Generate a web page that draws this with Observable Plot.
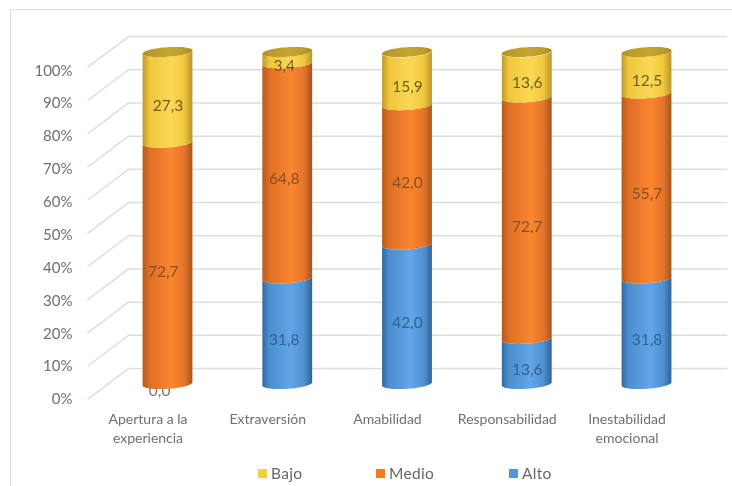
<!DOCTYPE html>
<html lang="es">
<head>
<meta charset="utf-8">
<script src="https://cdn.jsdelivr.net/npm/d3@7"></script>
<script src="https://cdn.jsdelivr.net/npm/@observablehq/plot@0.6"></script>
<style>
  html,body{margin:0;padding:0;background:#fff;width:732px;height:486px;overflow:hidden;font-family:Lato,sans-serif}
  #frame{position:absolute;left:10px;top:9px;right:0;bottom:0;border-left:1.5px solid #dcdcdc;border-top:1.5px solid #dcdcdc}
  #chart{position:absolute;left:0;top:0}
  #chart svg{filter:blur(.6px);display:block;background:none}
  #legend{position:absolute;left:0;top:458px;width:732px;height:28px;filter:blur(.5px)}
  .item{position:absolute;top:6px;display:flex;align-items:center;gap:4px;color:#666;font-size:15.5px;letter-spacing:.3px}
  .swatch{width:9px;height:9px;display:inline-block}
</style>
</head>
<body>
<div id="frame"></div>
<div id="chart"></div>
<div id="legend"></div>
<script>
const categories = ["Apertura a la\nexperiencia", "Extraversión", "Amabilidad", "Responsabilidad", "Inestabilidad\nemocional"];
const levels = ["Alto", "Medio", "Bajo"];
const alto  = [0.0, 31.8, 42.0, 13.6, 31.8];
const medio = [72.7, 64.8, 42.0, 72.7, 55.7];
const bajo  = [27.3, 3.4, 15.9, 13.6, 12.5];
const yTicks = [0, 10, 20, 30, 40, 50, 60, 70, 80, 90, 100];
const legendOrder = ["Bajo", "Medio", "Alto"];
const colors = {Alto: "#4f97dc", Medio: "#ef7a2a", Bajo: "#f6ce42"};
const textColors = {Alto: "#33628f", Medio: "#8a4f22", Bajo: "#6e5f20"};
const gradients = {
  Alto:  ["#34699e", "#4c8fd0", "#62a5e8", "#4f90cf", "#2f6397"],
  Medio: ["#b65a1b", "#dd6f26", "#fb8630", "#e3742a", "#a5551f"],
  Bajo:  ["#bd9a2a", "#f0c63c", "#fad955", "#f0c63c", "#b6952c"]
};

const seriesByLevel = {Alto: alto, Medio: medio, Bajo: bajo};

// Cylinder geometry expressed in scale units (category steps, percent points)
const pxPerPct = 3.32;
const halfWidth = 0.208, tilt = 1.6 / pxPerPct, squash = 4.8 / pxPerPct;
const backX = -0.33, rightX = 4.676, frontX = -0.672, tickX = -0.797;
const backLift = 4.8, frontDrop = -4.5;

const samples = d3.range(0, 33).map(i => Math.cos(Math.PI * i / 32));
const lower = (v, t) => v + tilt * t - squash * Math.sqrt(1 - t * t);
const upper = (v, t) => v + tilt * t + squash * Math.sqrt(1 - t * t);

const segments = [];
categories.forEach((c, i) => {
  let base = 0;
  levels.forEach(level => {
    const value = seriesByLevel[level][i];
    segments.push({i, level, value, base, top: base + value, mid: base + value / 2});
    base += value;
  });
});
const shape = level => segments.filter(s => s.level === level && s.value > 0).flatMap(s =>
  samples.map(t => ({i: s.i, x: s.i + halfWidth * t, y1: lower(s.base, t), y2: lower(s.top, t)})));
const caps = categories.flatMap((c, i) =>
  samples.map(t => ({i, x: i + halfWidth * t, y1: lower(100, t), y2: upper(100, t)})));

const label = s => s.value.toFixed(1).replace(".", ",");
const labelX = s => s.i === 1 ? s.i - 0.03 : s.i === 0 && s.level === "Medio" ? s.i - 0.04 : s.i;

const defs = () => {
  const ns = "http://www.w3.org/2000/svg";
  const d = document.createElementNS(ns, "defs");
  const add = (id, stops) => {
    const g = document.createElementNS(ns, "linearGradient");
    g.setAttribute("id", id);
    [0, .14, .58, .84, 1].forEach((o, k) => {
      const s = document.createElementNS(ns, "stop");
      s.setAttribute("offset", o);
      s.setAttribute("stop-color", stops[k]);
      g.appendChild(s);
    });
    d.appendChild(g);
  };
  levels.forEach(l => add("g-" + l, gradients[l]));
  add("g-cap", ["#a88a24", "#bb9a2a", "#c7a42e", "#bb9a2a", "#a88a24"]);
  return d;
};

const plot = Plot.plot({
  width: 732,
  height: 458,
  margin: 0,
  style: {fontFamily: "Lato, sans-serif", background: "transparent"},
  x: {domain: [0, 4], range: [167.5, 646.5], axis: null},
  y: {domain: [0, 100], range: [384, 52], axis: null},
  marks: [
    defs,
    // back wall gridlines and side-wall diagonals
    Plot.ruleY(yTicks, {y: d => d + backLift, x1: backX, x2: rightX, stroke: "#dedede", strokeWidth: 1.5}),
    Plot.link(yTicks, {x1: frontX, x2: backX, y1: d => d + frontDrop, y2: d => d + backLift, stroke: "#dedede", strokeWidth: 1.5}),
    // the 0,0 label sits behind the cylinder base
    Plot.text(segments.filter(s => s.value === 0), {x: s => s.i - 0.07, y: "mid", dy: 7, text: label, fill: "#777", fontSize: 15.5}),
    // cylinders
    ...levels.map(level => Plot.areaY(shape(level), {x: "x", y1: "y1", y2: "y2", z: "i", fill: `url(#g-${level})`})),
    Plot.areaY(caps, {x: "x", y1: "y1", y2: "y2", z: "i", fill: "url(#g-cap)"}),
    // data labels
    Plot.text(segments.filter(s => s.value > 0), {x: labelX, y: "mid", dy: 8, text: label, fill: s => textColors[s.level], fontSize: 15.5}),
    // axis labels
    Plot.text(yTicks, {x: tickX, y: d => d * 0.99 + frontDrop, text: d => d + "%", textAnchor: "end", fill: "#6f6f6f", fontSize: 15}),
    Plot.text(categories, {x: (d, i) => i - 0.167, y: -7.9, text: d => d, lineAnchor: "top", lineHeight: 1.36, fill: "#6f6f6f", fontSize: 14})
  ]
});
document.getElementById("chart").appendChild(plot);

const legendLeft = {Bajo: 258, Medio: 376, Alto: 509};
const legend = document.getElementById("legend");
legendOrder.forEach(name => {
  const item = document.createElement("div");
  item.className = "item";
  item.style.left = legendLeft[name] + "px";
  const sw = document.createElement("span");
  sw.className = "swatch";
  sw.style.background = colors[name];
  const tx = document.createElement("span");
  tx.textContent = name;
  item.append(sw, tx);
  legend.appendChild(item);
});
</script>
</body>
</html>
